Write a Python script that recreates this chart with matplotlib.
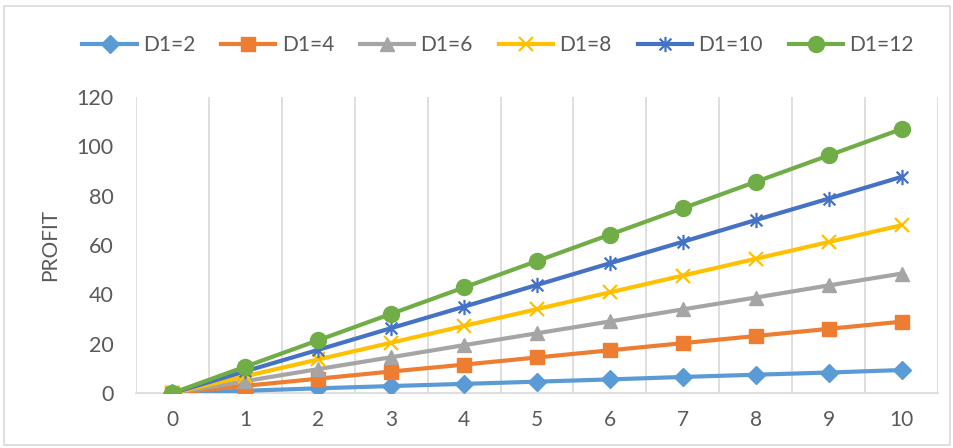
import matplotlib.pyplot as plt
from matplotlib.path import Path
from matplotlib.patches import Rectangle

# === Data ===
x_vals = [0, 1, 2, 3, 4, 5, 6, 7, 8, 9, 10]
d1_2 = [0, 0.9, 1.9, 2.8, 3.7, 4.6, 5.5, 6.5, 7.4, 8.3, 9.3]
d1_4 = [0, 2.9, 5.8, 8.7, 11.5, 14.4, 17.3, 20.2, 23.1, 26.0, 28.9]
d1_6 = [0, 4.8, 9.7, 14.5, 19.4, 24.2, 29.0, 33.9, 38.7, 43.6, 48.4]
d1_8 = [0, 6.8, 13.6, 20.4, 27.2, 34.0, 40.8, 47.6, 54.4, 61.2, 68.0]
d1_10 = [0, 8.8, 17.5, 26.3, 35.0, 43.8, 52.6, 61.3, 70.1, 78.8, 87.6]
d1_12 = [0, 10.7, 21.4, 32.1, 42.8, 53.5, 64.2, 74.9, 85.6, 96.3, 107.0]

labels = ["D1=2", "D1=4", "D1=6", "D1=8", "D1=10", "D1=12"]
colors = ["#5B9BD5", "#ED7D31", "#A5A5A5", "#FFC000", "#4472C4", "#70AD47"]

# Excel-style star marker: an x with a vertical bar
star = Path([(-1, -1), (1, 1), (-1, 1), (1, -1), (0, -1.3), (0, 1.3)],
            [Path.MOVETO, Path.LINETO, Path.MOVETO, Path.LINETO, Path.MOVETO, Path.LINETO])

series = [d1_2, d1_4, d1_6, d1_8, d1_10, d1_12]
markers = ["D", "s", "^", "x", star, "o"]
msizes = [9, 10, 10, 10, 11, 11.5]

plt.rcParams['font.family'] = ['Lato', 'DejaVu Sans']

fig = plt.figure(figsize=(9.54, 4.48), dpi=100)
ax = fig.add_axes([0.1426, 0.1228, 0.8406, 0.6607])

for ys, lab, c, m, ms in zip(series, labels, colors, markers, msizes):
    ax.plot(x_vals, ys, color=c, lw=3, marker=m, markersize=ms,
            markeredgewidth=1.6 if m in ("x",) or m is star else 1,
            markeredgecolor=c, markerfacecolor=c, label=lab, zorder=3)

ax.set_xlim(-0.5, 10.5)
ax.set_ylim(0, 120)
ax.set_xticks(x_vals)
ax.set_yticks([0, 20, 40, 60, 80, 100, 120])
ax.set_xticks([v - 0.5 for v in x_vals] + [10.5], minor=True)
ax.grid(True, axis='x', which='minor', color='#D9D9D9', lw=1.2)
ax.grid(False, axis='x', which='major')
ax.tick_params(which='both', length=0)
ax.tick_params(axis='x', pad=12, labelsize=15, labelcolor='#595959')
ax.tick_params(axis='y', pad=16, labelsize=15.5, labelcolor='#595959')

for s in ['top', 'right', 'left']:
    ax.spines[s].set_visible(False)
ax.spines['bottom'].set_color('#D9D9D9')
ax.spines['bottom'].set_linewidth(1.2)

ax.set_ylabel("PROFIT", fontsize=15, color='#595959', labelpad=12)

leg = fig.legend(loc='center', bbox_to_anchor=(0.522, 0.9), ncol=6, frameon=False,
                 fontsize=15, handlelength=2.6, columnspacing=1.25, handletextpad=0.3,
                 labelcolor='#595959')

fig.patches.append(Rectangle((0.004, 0.006), 0.992, 0.98, transform=fig.transFigure,
                             fill=False, edgecolor='#D9D9D9', lw=1.2))

fig.savefig("out.png", dpi=100)
